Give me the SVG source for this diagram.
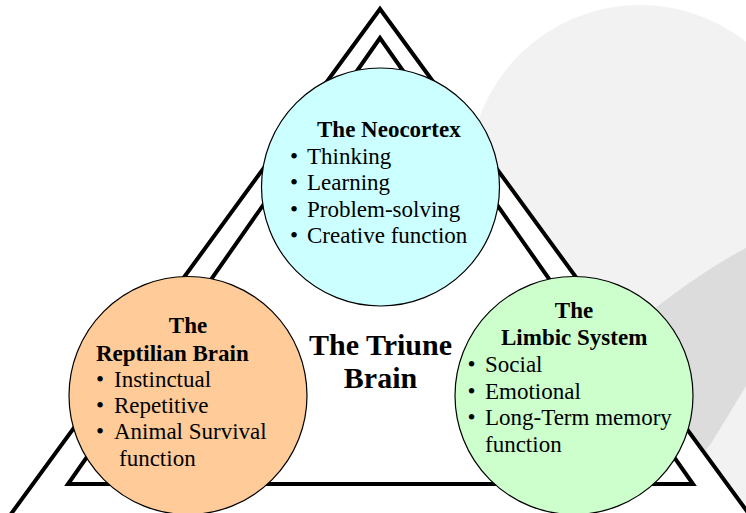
<svg xmlns="http://www.w3.org/2000/svg" width="746" height="513" viewBox="0 0 746 513">
  <style>
    .title { font-family: "Liberation Serif", "Times New Roman", serif; font-weight: bold; font-size: 23px; fill: #000; }
    .item  { font-family: "Liberation Serif", "Times New Roman", serif; font-size: 23px; fill: #000; }
    .big   { font-family: "Liberation Serif", "Times New Roman", serif; font-weight: bold; font-size: 30px; fill: #000; text-anchor: middle; }
    .dot   { text-anchor: middle; }
    .lobe  { stroke: #000; stroke-width: 1.2; }
    .tri   { stroke: #000; stroke-width: 4; stroke-linejoin: miter; }
  </style>

  <rect width="746" height="513" fill="#ffffff"/>

  <!-- decorative background swoosh -->
  <g id="backdrop">
    <circle cx="640" cy="176" r="171" fill="#f2f2f2"/>
    <rect x="560" y="176" width="186" height="337" fill="#f2f2f2"/>
    <path d="M746 248 Q700 272 640 320 L620 420 L690 470 L710 445 Q728 416 746 386 Z" fill="#dcdcdc"/>
  </g>

  <!-- double triangle frame -->
  <g id="frame">
    <polygon class="tri" points="380,9 -8,540 768,540" fill="#ffffff"/>
    <polygon class="tri" points="380,38 68,484 693,484" fill="none"/>
  </g>

  <g id="neocortex">
    <circle class="lobe" cx="380.5" cy="187" r="119" fill="#ccffff"/>
    <text class="title" x="317" y="136.7">The Neocortex</text>
    <text class="item dot" x="294" y="164">•</text>
    <text class="item" x="307" y="164">Thinking</text>
    <text class="item dot" x="294" y="190.3">•</text>
    <text class="item" x="307" y="190.3">Learning</text>
    <text class="item dot" x="294" y="216.6">•</text>
    <text class="item" x="307" y="216.6">Problem-solving</text>
    <text class="item dot" x="294" y="242.5">•</text>
    <text class="item" x="307" y="242.5">Creative function</text>
  </g>

  <g id="reptilian">
    <circle class="lobe" cx="188" cy="395.5" r="119" fill="#ffcc99"/>
    <text class="title" x="188" y="333.3" text-anchor="middle">The</text>
    <text class="title" x="96" y="360.5">Reptilian Brain</text>
    <text class="item dot" x="100" y="386.7">•</text>
    <text class="item" x="114" y="386.7">Instinctual</text>
    <text class="item dot" x="100" y="413">•</text>
    <text class="item" x="114" y="413">Repetitive</text>
    <text class="item dot" x="100" y="439.3">•</text>
    <text class="item" x="114" y="439.3">Animal Survival</text>
    <text class="item" x="119" y="465.7">function</text>
  </g>

  <g id="limbic">
    <circle class="lobe" cx="574" cy="395.5" r="119" fill="#ccffcc"/>
    <text class="title" x="574" y="318.3" text-anchor="middle">The</text>
    <text class="title" x="501" y="345">Limbic System</text>
    <text class="item dot" x="471.5" y="371.5">•</text>
    <text class="item" x="485" y="371.5">Social</text>
    <text class="item dot" x="471.5" y="398.5">•</text>
    <text class="item" x="485" y="398.5">Emotional</text>
    <text class="item dot" x="471.5" y="425">•</text>
    <text class="item" x="485" y="425">Long-Term memory</text>
    <text class="item" x="485" y="451.7">function</text>
  </g>

  <g id="triune-label">
    <text class="big" x="380.5" y="355">The Triune</text>
    <text class="big" x="380.5" y="388.3">Brain</text>
  </g>
</svg>
